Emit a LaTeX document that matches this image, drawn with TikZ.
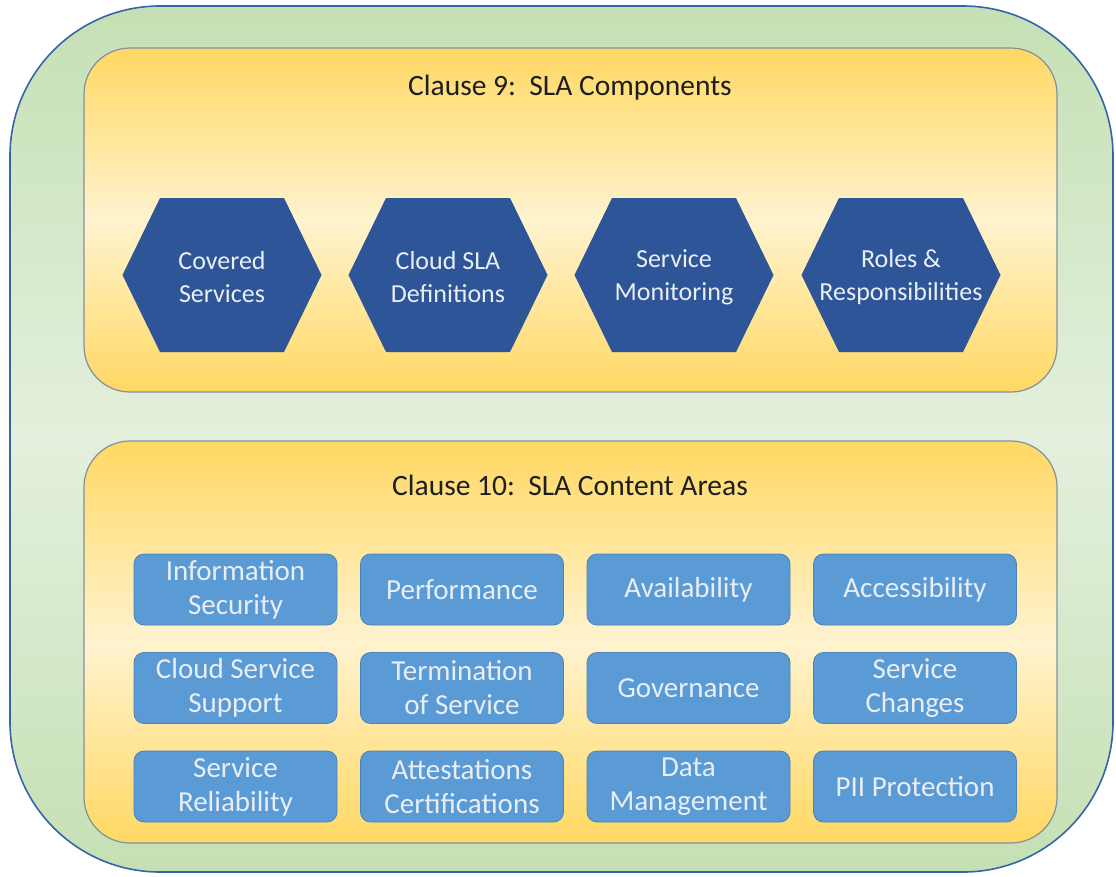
\documentclass[tikz,border=0pt]{standalone}
\usepackage{fontspec}
\setmainfont{Carlito}
\definecolor{outerline}{HTML}{3565A8}
\definecolor{greenA}{HTML}{C5E0B4}
\definecolor{greenB}{HTML}{E4F0DD}
\definecolor{gold}{HTML}{FFD863}
\definecolor{paleyellow}{HTML}{FFF3CF}
\definecolor{boxline}{HTML}{8390A0}
\definecolor{hexblue}{HTML}{2E5597}
\definecolor{cellblue}{HTML}{5B9BD5}
\definecolor{cellline}{HTML}{4A82BC}
\definecolor{lighttext}{HTML}{E9EEF5}
\definecolor{titletext}{HTML}{1E1E1E}
\tikzset{
  outerbox/.style={draw=outerline, line width=1.6pt, rounded corners=150pt,
    top color=greenA, bottom color=greenA, middle color=greenB},
  clausebox/.style={draw=boxline, line width=1.2pt, rounded corners=46pt,
    top color=gold, bottom color=gold, middle color=paleyellow},
  hexfill/.style={fill=hexblue},
  hextext/.style={text=lighttext, font=\fontsize{26}{33}\selectfont, align=center},
  cell/.style={draw=cellline, line width=0.8pt, fill=cellblue, rounded corners=10pt,
    minimum width=203pt, minimum height=71pt, inner sep=0pt,
    text=lighttext, font=\fontsize{29}{34}\selectfont, align=center},
  cliptitle/.style={text=titletext, font=\fontsize{29.5}{32}\selectfont}
}
\begin{document}
\begin{tikzpicture}[x=1pt,y=-1pt]
\useasboundingbox (0,0) rectangle (1116,876);
% outer frame
\path[outerbox] (10,6) rectangle (1113,872);
% clause boxes
\path[clausebox] (84,48) rectangle (1057,392);
\path[clausebox] (84,441) rectangle (1057,843);
\node[cliptitle] (t9) at (570,88) {Clause 9:\ \ SLA Components};
\node[cliptitle] (t10) at (570,485) {Clause 10:\ \ SLA Content Areas};
% hexagons
\foreach \i/\x/\t in {1/222/{Covered\\Services},2/448/{Cloud SLA\\Definitions},3/674/{Service\\Monitoring},4/901/{Roles \&\\Responsibilities}}{
  \fill[hexfill, shift={(\x,275)}] (-99.5,0) -- (-62,-77) -- (62,-77) -- (99.5,0) -- (62,77) -- (-62,77) -- cycle;
  \node[hextext] (hex\i) at (\x,277) {\t};
}
% content area cells
\node[cell] (c11) at (235.5,589.5) {Information\\Security};
\node[cell] (c12) at (462,589.5) {Performance};
\node[cell] (c13) at (688.5,589.5) {Availability};
\node[cell] (c14) at (915,589.5) {Accessibility};
\node[cell] (c21) at (235.5,688) {Cloud Service\\Support};
\node[cell] (c22) at (462,688) {Termination\\of Service};
\node[cell] (c23) at (688.5,688) {Governance};
\node[cell] (c24) at (915,688) {Service\\Changes};
\node[cell] (c31) at (235.5,786.5) {Service\\Reliability};
\node[cell] (c32) at (462,786.5) {Attestations\\Certifications};
\node[cell] (c33) at (688.5,786.5) {Data\\Management};
\node[cell] (c34) at (915,786.5) {PII Protection};
\end{tikzpicture}
\end{document}
